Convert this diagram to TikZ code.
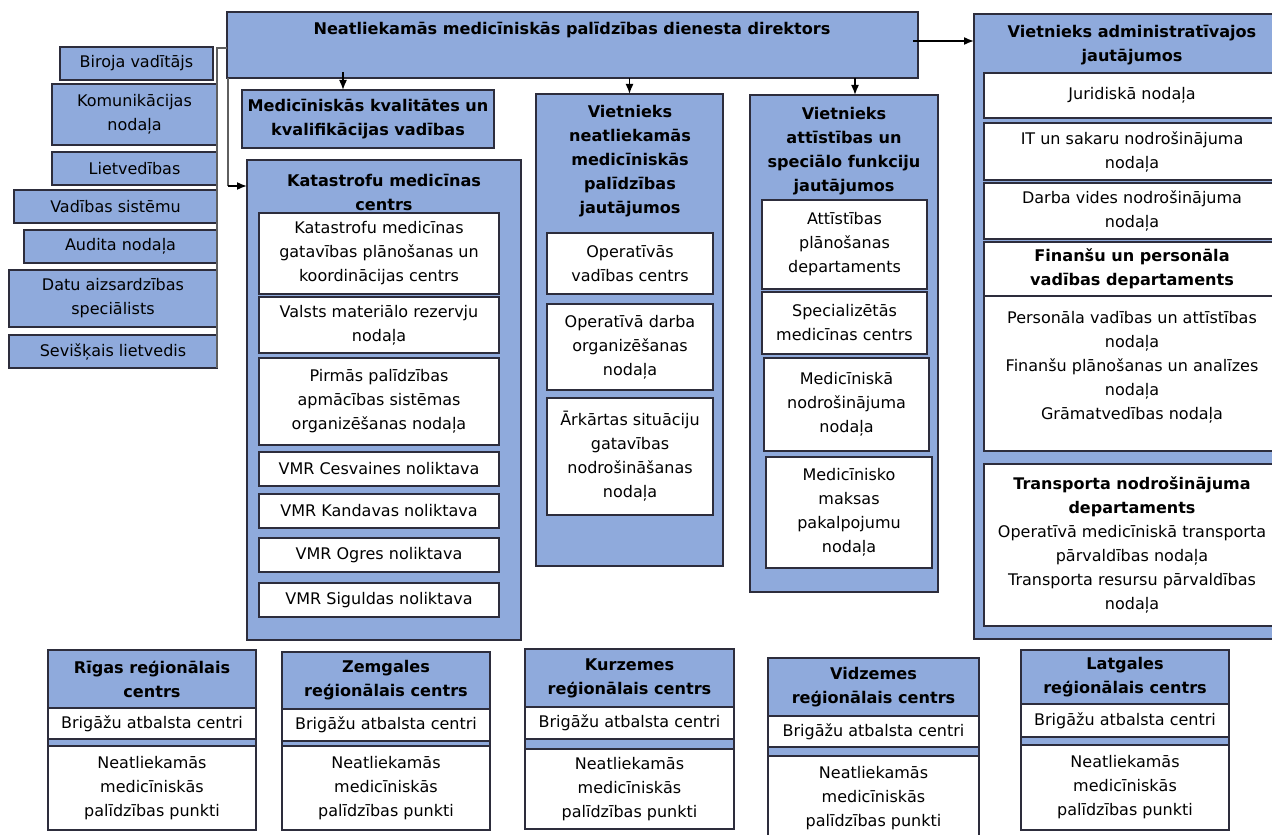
\documentclass[tikz,border=0pt]{standalone}
\usepackage{fontspec}
\setmainfont{DejaVu Sans}
\usetikzlibrary{positioning,arrows.meta}

\definecolor{orgblue}{RGB}{143,170,220}
\definecolor{orgline}{RGB}{45,45,60}
\definecolor{busgray}{RGB}{95,95,95}

\begin{document}
\begin{tikzpicture}[
			x=0.5pt, y=-0.5pt,
			>={Latex[length=5pt,width=4pt]},
			every node/.style={
				inner sep=1pt,
				outer sep=0pt,
				align=center,
				font=\fontsize{8}{12}\selectfont
			},
			sz/.style 2 args={anchor=north west, minimum width=#1*0.5pt, minimum height=#2*0.5pt},
			bluebox/.style={draw=orgline, fill=orgblue, line width=0.7pt},
			whitebox/.style={draw=orgline, fill=white, line width=0.7pt},
			title/.style={font=\fontsize{8.05}{12}\selectfont\bfseries},
			link/.style={->, line width=0.8pt},
			bus/.style={draw=busgray, line width=0.9pt}
			]
			
			\useasboundingbox (0,0) rectangle (1272,834);
			\clip (0,0) rectangle (1272,834);
			
			%--------------------------------------------------
			% Director
			%--------------------------------------------------
			
			\node (dir) [bluebox, sz={691}{66}] at (227,12) {};
			\node (dirT) [title] at (572,30) {Neatliekamās medicīniskās palīdzības dienesta direktors};
			
			%--------------------------------------------------
			% Left column
			%--------------------------------------------------
			
			\node (biroja) [bluebox, sz={153}{33}] at (60,47) {Biroja vadītājs};
			\node (komun) [bluebox, sz={165}{61}] at (52,84) {Komunikācijas\\nodaļa};
			\node (lietv) [bluebox, sz={165}{33}] at (52,152) {Lietvedības};
			\node (vadsis) [bluebox, sz={203}{33}] at (14,190) {Vadības sistēmu};
			\node (audit) [bluebox, sz={193}{33}] at (24,230) {Audita nodaļa};
			\node (datu) [bluebox, sz={208}{57}] at (9,270) {Datu aizsardzības\\speciālists};
			\node (sevisk) [bluebox, sz={208}{33}] at (9,335) {Sevišķais lietvedis};
			
			%--------------------------------------------------
			% Quality and disaster medicine
			%--------------------------------------------------
			
			\node (medkval) [bluebox, sz={252}{58}, title] at (242,90) {Medicīniskās kvalitātes un\\kvalifikācijas vadības};
			
			\node (kat) [bluebox, sz={274}{480}] at (247,160) {};
			\node (katT) [title] at (384,192) {Katastrofu medicīnas\\centrs};
			\node (kat1) [whitebox, sz={240}{81}] at (259,213) {Katastrofu medicīnas\\gatavības plānošanas un\\koordinācijas centrs};
			\node (kat2) [whitebox, sz={240}{56}] at (259,297) {Valsts materiālo rezervju\\nodaļa};
			\node (kat3) [whitebox, sz={240}{87}] at (259,358) {Pirmās palīdzības\\apmācības sistēmas\\organizēšanas nodaļa};
			\node (kat4) [whitebox, sz={240}{34}] at (259,452) {VMR Cesvaines noliktava};
			\node (kat5) [whitebox, sz={240}{34}] at (259,494) {VMR Kandavas noliktava};
			\node (kat6) [whitebox, sz={240}{34}] at (259,538) {VMR Ogres noliktava};
			\node (kat7) [whitebox, sz={240}{34}] at (259,583) {VMR Siguldas noliktava};
			
			%--------------------------------------------------
			% Deputy, emergency medical assistance
			%--------------------------------------------------
			
			\node (vneat) [bluebox, sz={187}{472}] at (536,94) {};
			\node (vneatT) [title] at (630,161) {Vietnieks\\neatliekamās\\medicīniskās\\palīdzības\\jautājumos};
			\node (vn1) [whitebox, sz={166}{61}] at (547,233) {Operatīvās\\vadības centrs};
			\node (vn2) [whitebox, sz={166}{86}] at (547,304) {Operatīvā darba\\organizēšanas\\nodaļa};
			\node (vn3) [whitebox, sz={166}{117}] at (547,398) {Ārkārtas situāciju\\gatavības\\nodrošināšanas\\nodaļa};
			
			%--------------------------------------------------
			% Deputy, development
			%--------------------------------------------------
			
			\node (vatt) [bluebox, sz={188}{497}] at (750,95) {};
			\node (vattT) [title] at (844,151) {Vietnieks\\attīstības un\\speciālo funkciju\\jautājumos};
			\node (va1) [whitebox, sz={165}{89}] at (762,200) {Attīstības\\plānošanas\\departaments};
			\node (va2) [whitebox, sz={165}{62}] at (762,292) {Specializētās\\medicīnas centrs};
			\node (va3) [whitebox, sz={165}{93}] at (764,358) {Medicīniskā\\nodrošinājuma\\nodaļa};
			\node (va4) [whitebox, sz={166}{111}] at (766,457) {Medicīnisko\\maksas\\pakalpojumu\\nodaļa};
			
			%--------------------------------------------------
			% Deputy, administration
			%--------------------------------------------------
			
			\node (vadm) [bluebox, sz={316}{625}] at (974,14) {};
			\node (vadmT) [title] at (1132,45) {Vietnieks administratīvajos\\jautājumos};
			\node (ad1) [whitebox, sz={296}{45}] at (984,73) {Juridiskā nodaļa};
			\node (ad2) [whitebox, sz={296}{57}] at (984,123) {IT un sakaru nodrošinājuma\\nodaļa};
			\node (ad3) [whitebox, sz={296}{56}] at (984,183) {Darba vides nodrošinājuma\\nodaļa};
			\node (finT) [whitebox, sz={296}{54}, title] at (984,242) {Finanšu un personāla\\vadības departaments};
			\node (finC) [whitebox, sz={296}{155}, below=0pt of finT] {Personāla vadības un attīstības\\nodaļa\\Finanšu plānošanas un analīzes\\nodaļa\\Grāmatvedības nodaļa\\[-4pt]\mbox{}};
			\node (trans) [whitebox, sz={296}{162}] at (984,464) {\textbf{Transporta nodrošinājuma}\\\textbf{departaments}\\Operatīvā medicīniskā transporta\\pārvaldības nodaļa\\Transporta resursu pārvaldības\\nodaļa};
			
			%--------------------------------------------------
			% Regional centres
			%--------------------------------------------------
			
			\node (rigaH) [bluebox, sz={208}{58}, title] at (48,650) {Rīgas reģionālais\\centrs};
			\node (rigaB) [whitebox, sz={208}{31}, below=0pt of rigaH] {Brigāžu atbalsta centri};
			\node (rigaS) [bluebox, sz={208}{7}, below=0pt of rigaB] {};
			\node (rigaP) [whitebox, sz={208}{84}, below=0pt of rigaS] {Neatliekamās\\medicīniskās\\palīdzības punkti};
			
			\node (zemH) [bluebox, sz={208}{57}, title] at (282,652) {Zemgales\\reģionālais centrs};
			\node (zemB) [whitebox, sz={208}{32}, below=0pt of zemH] {Brigāžu atbalsta centri};
			\node (zemS) [bluebox, sz={208}{5}, below=0pt of zemB] {};
			\node (zemP) [whitebox, sz={208}{84}, below=0pt of zemS] {Neatliekamās\\medicīniskās\\palīdzības punkti};
			
			\node (kurH) [bluebox, sz={209}{58}, title] at (525,649) {Kurzemes\\reģionālais centrs};
			\node (kurB) [whitebox, sz={209}{32}, below=0pt of kurH] {Brigāžu atbalsta centri};
			\node (kurS) [bluebox, sz={209}{10}, below=0pt of kurB] {};
			\node (kurP) [whitebox, sz={209}{80}, below=0pt of kurS] {Neatliekamās\\medicīniskās\\palīdzības punkti};
			
			\node (vidH) [bluebox, sz={211}{58}, title] at (768,658) {Vidzemes\\reģionālais centrs};
			\node (vidB) [whitebox, sz={211}{31}, below=0pt of vidH] {Brigāžu atbalsta centri};
			\node (vidS) [bluebox, sz={211}{9}, below=0pt of vidB] {};
			\node (vidP) [whitebox, sz={211}{84}, below=0pt of vidS] {Neatliekamās\\medicīniskās\\palīdzības punkti};
			
			\node (latH) [bluebox, sz={208}{54}, title] at (1021,650) {Latgales\\reģionālais centrs};
			\node (latB) [whitebox, sz={208}{33}, below=0pt of latH] {Brigāžu atbalsta centri};
			\node (latS) [bluebox, sz={208}{8}, below=0pt of latB] {};
			\node (latP) [whitebox, sz={208}{85}, below=0pt of latS] {Neatliekamās\\medicīniskās\\palīdzības punkti};
			
			%--------------------------------------------------
			% Links
			%--------------------------------------------------
			
			\coordinate (busTop) at (217,48);
			\coordinate (busBot) at (217,368);
			\draw[bus] (busTop -| dir.west) -- (busTop) -- (busBot);
			
			\coordinate (katTurn) at (228,186);
			\draw[bus] (katTurn |- dir.south) -- (katTurn);
			\draw[link] (katTurn) -- (katTurn -| kat.west);
			
			\coordinate (a1) at (343,72);
			\draw[link] (a1) -- (a1 |- medkval.north);
			
			\draw[link] (dir.south -| vneat.north) -- (vneat.north);
			
			\coordinate (a3) at (855,78);
			\draw[link] (a3) -- (a3 |- vatt.north);
			
			\coordinate (a4) at (913,41);
			\draw[link] (a4) -- (a4 -| vadm.west);
			
		\end{tikzpicture}
\end{document}
